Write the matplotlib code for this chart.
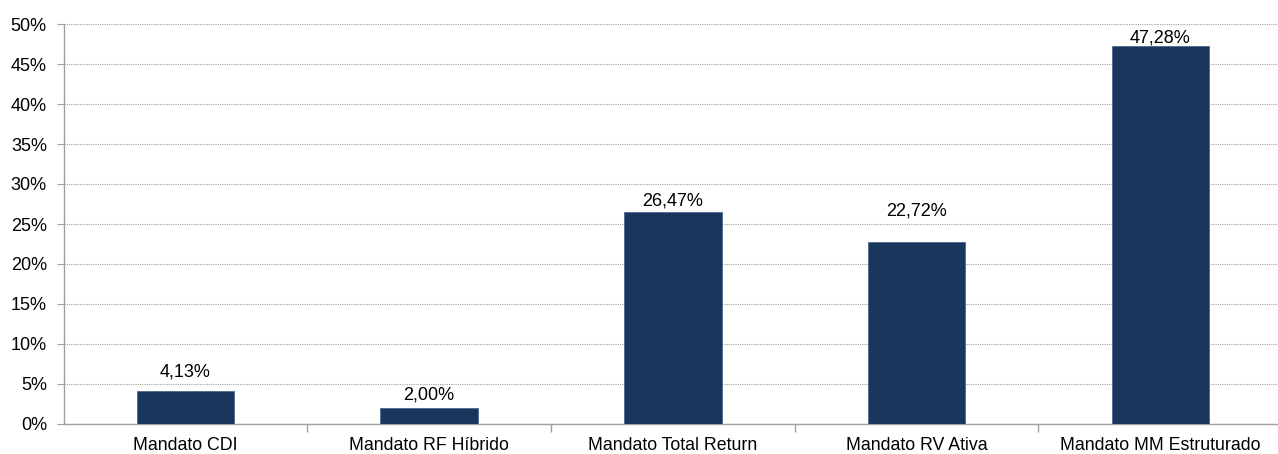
import matplotlib
matplotlib.use("Agg")
import matplotlib.pyplot as plt
from matplotlib.ticker import FixedLocator, PercentFormatter

categories = ["Mandato CDI", "Mandato RF Híbrido", "Mandato Total Return",
              "Mandato RV Ativa", "Mandato MM Estruturado"]
values = [4.13, 2.00, 26.47, 22.72, 47.28]
value_labels = ["4,13%", "2,00%", "26,47%", "22,72%", "47,28%"]
label_gap_px = [10, 4, 3, 23, -1]

plt.rcParams['font.family'] = ['Liberation Sans', 'DejaVu Sans']

fig = plt.figure(figsize=(12.78, 4.54), dpi=100)
ax = fig.add_axes([63.6/1278, 30/454, 1218.6/1278, 400/454])

x = list(range(len(categories)))
bars = ax.bar(x, values, width=0.4, color="#1a365d", edgecolor="#4a6a8f", linewidth=0.6, zorder=3)

ax.set_xlim(-0.5, len(categories) - 0.5)
ax.set_ylim(0, 50)
ax.set_yticks(range(0, 51, 5))
ax.yaxis.set_major_formatter(PercentFormatter(decimals=0))
ax.yaxis.grid(True, color="#a0a0a0", linestyle=(0, (1, 1)), linewidth=0.8, zorder=0)

ax.set_xticks(x)
ax.set_xticklabels(categories)
ax.tick_params(axis='x', which='major', length=0, labelsize=12.8, pad=9, colors="#000000")
ax.xaxis.set_minor_locator(FixedLocator([i + 0.5 for i in range(len(categories) - 1)]))
ax.tick_params(axis='x', which='minor', length=6, color="#a0a0a0", width=1)
ax.tick_params(axis='y', length=5, color="#a0a0a0", labelsize=13, pad=7)

for s in ["top", "right"]:
    ax.spines[s].set_visible(False)
for s in ["left", "bottom"]:
    ax.spines[s].set_color("#a0a0a0")
    ax.spines[s].set_linewidth(1)

for xi, v, lab, g in zip(x, values, value_labels, label_gap_px):
    ax.annotate(lab, (xi, v), xytext=(0, g * 0.72), textcoords="offset points",
                ha="center", va="bottom", fontsize=13)

fig.savefig("out.png", dpi=100)
